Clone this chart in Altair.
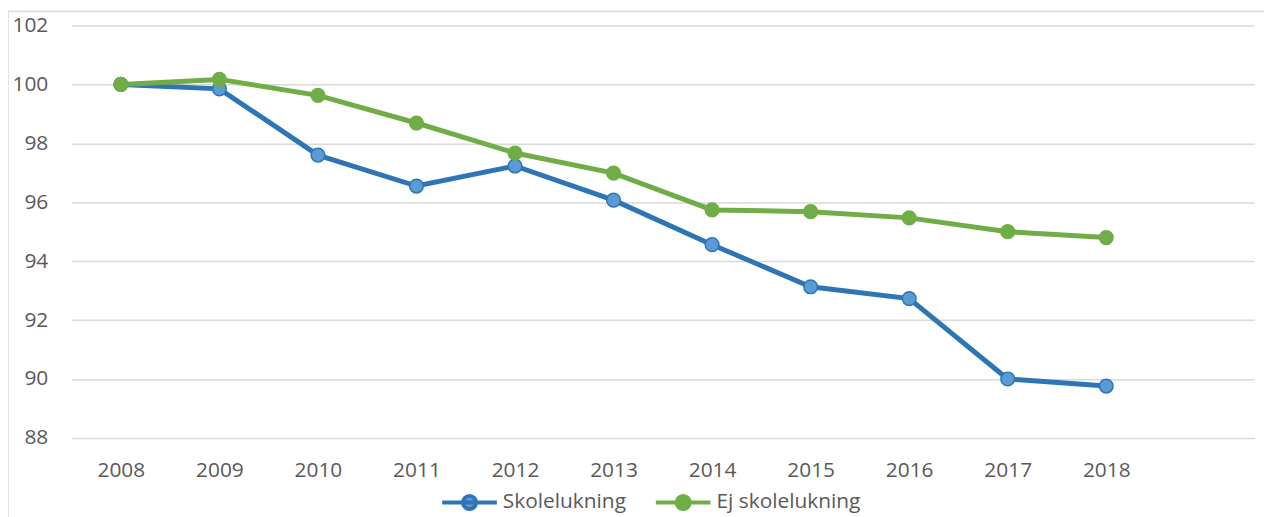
import altair as alt
import pandas as pd

years = [2008, 2009, 2010, 2011, 2012, 2013, 2014, 2015, 2016, 2017, 2018]
skolelukning = [100.0, 99.85, 97.6, 96.55, 97.23, 96.07, 94.56, 93.13, 92.73, 90.0, 89.76]
ej_skolelukning = [100.0, 100.17, 99.63, 98.69, 97.67, 96.99, 95.74, 95.68, 95.47, 95.0, 94.8]
series_names = ["Skolelukning", "Ej skolelukning"]
y_ticks = [88, 90, 92, 94, 96, 98, 100, 102]

line_colors = ["#2E75B6", "#70AD47"]
marker_fill = ["#5B9BD5", "#70AD47"]
text_color = "#595959"
font = "Open Sans"
fsize = 21

df = pd.DataFrame({
    "year": years + years,
    "value": skolelukning + ej_skolelukning,
    "series": [series_names[0]] * len(years) + [series_names[1]] * len(years),
})

W, H = 1190, 415
PAD = {"left": 64, "top": 16, "right": 10, "bottom": 78}

legend_path = "M-1,0H1M-0.24,0A0.24,0.24,0,1,0,0.24,0A0.24,0.24,0,1,0,-0.24,0Z"
leg = alt.Legend(
    title=None,
    orient="none",
    legendX=371,
    legendY=450,
    direction="horizontal",
    symbolType=legend_path,
    symbolSize=3025,
    symbolStrokeWidth=4,
    labelFont=font,
    labelFontSize=fsize,
    labelColor=text_color,
    labelOffset=4,
    columnPadding=22,
)

x_enc = alt.X(
    "year:Q",
    scale=alt.Scale(domain=[2007.5, 2019.5], nice=False, zero=False),
    axis=alt.Axis(values=years, format="d", title=None, grid=False, domain=False,
                  ticks=False, labelPadding=22, labelFontSize=fsize, labelColor=text_color,
                  labelFont=font),
)
y_enc = alt.Y(
    "value:Q",
    scale=alt.Scale(domain=[88, 102], nice=False, zero=False),
    axis=alt.Axis(values=y_ticks, title=None, grid=True, gridColor="#D9D9D9", gridWidth=1.5,
                  domain=False, ticks=False, labelPadding=24, labelFontSize=fsize,
                  labelColor=text_color, labelFont=font),
)

stroke_enc = alt.Stroke("series:N", scale=alt.Scale(domain=series_names, range=line_colors), legend=leg)
fill_enc = alt.Fill("series:N", scale=alt.Scale(domain=series_names, range=marker_fill), legend=leg)

border = alt.Chart(alt.Data(values=[{"a": 1}])).mark_rect(
    fill="white", fillOpacity=0, stroke="#D9D9D9", strokeWidth=1.5
).encode(
    x=alt.value(-64), x2=alt.value(W + 100),
    y=alt.value(-14), y2=alt.value(H + 200),
)

lines = alt.Chart(df).mark_line(strokeWidth=5).encode(
    x=x_enc, y=y_enc, stroke=stroke_enc, detail="series:N"
)
points = alt.Chart(df).mark_point(filled=True, size=190, strokeWidth=1.5, opacity=1).encode(
    x=x_enc, y=y_enc, fill=fill_enc, stroke=stroke_enc
)

chart = alt.layer(border, lines, points).properties(
    width=W, height=H, padding=PAD, background="white",
    autosize=alt.AutoSizeParams(type="none"),
).configure_view(strokeWidth=0, stroke="transparent")

chart.save("out.html", embed_options={"renderer": "svg", "actions": False})
